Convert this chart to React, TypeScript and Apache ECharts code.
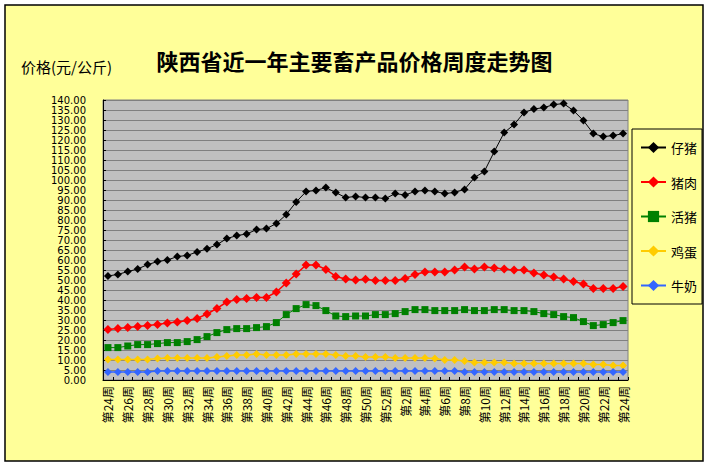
import React, { useEffect, useRef } from "react";
import * as echarts from "echarts";

const weeks: string[] = [
  "第24周", "第25周", "第26周", "第27周", "第28周", "第29周", "第30周", "第31周", "第32周", "第33周",
  "第34周", "第35周", "第36周", "第37周", "第38周", "第39周", "第40周", "第41周", "第42周", "第43周",
  "第44周", "第45周", "第46周", "第47周", "第48周", "第49周", "第50周", "第51周", "第52周",
  "第1周", "第2周", "第3周", "第4周", "第5周", "第6周", "第7周", "第8周", "第9周", "第10周",
  "第11周", "第12周", "第13周", "第14周", "第15周", "第16周", "第17周", "第18周", "第19周", "第20周",
  "第21周", "第22周", "第23周", "第24周",
];

const piglet: number[] = [
  52.0, 52.8, 54.2, 55.5, 57.7, 59.2, 60.0, 61.7, 62.3, 64.0,
  65.6, 67.7, 70.7, 72.2, 73.0, 75.2, 75.7, 78.2, 82.7, 89.0,
  94.2, 94.8, 96.2, 93.7, 91.2, 91.8, 91.2, 91.2, 90.7,
  93.2, 92.5, 94.3, 94.8, 94.3, 93.2, 93.8, 95.3, 101.2, 104.3,
  114.2, 123.7, 127.7, 133.7, 135.5, 136.2, 137.7, 138.2, 134.7, 129.7,
  123.2, 121.7, 122.2, 123.2,
];

const pork: number[] = [
  25.3, 25.8, 26.3, 26.8, 27.3, 27.8, 28.5, 29.0, 29.7, 30.8,
  33.0, 35.8, 39.0, 40.3, 40.8, 41.3, 41.3, 44.0, 48.5, 53.0,
  57.5, 57.5, 55.3, 51.8, 50.5, 50.0, 50.4, 49.8, 49.8,
  49.8, 50.8, 52.7, 54.0, 54.0, 54.0, 55.0, 56.5, 55.5, 56.5,
  56.0, 55.5, 55.0, 55.0, 53.5, 52.5, 51.5, 50.5, 49.3, 48.0,
  45.8, 45.8, 45.8, 46.8,
];

const hog: number[] = [
  16.2, 16.2, 17.0, 17.7, 17.7, 18.2, 18.7, 18.7, 19.2, 20.2,
  21.7, 23.7, 25.2, 25.7, 25.7, 26.2, 26.7, 28.7, 32.7, 35.7,
  37.7, 37.2, 34.7, 32.0, 31.7, 32.0, 32.0, 32.7, 32.7,
  33.2, 34.2, 35.2, 35.2, 34.7, 34.7, 34.7, 35.2, 34.7, 34.7,
  35.2, 35.2, 34.7, 34.7, 34.2, 33.2, 32.7, 31.7, 31.2, 29.2,
  27.2, 27.7, 28.7, 29.7,
];

const egg: number[] = [
  10.2, 10.2, 10.2, 10.2, 10.2, 10.7, 11.0, 11.0, 11.0, 11.0,
  11.0, 11.5, 12.0, 12.5, 12.5, 13.0, 12.5, 12.5, 12.5, 13.0,
  13.0, 13.0, 13.0, 12.5, 12.0, 12.0, 11.5, 11.5, 11.5,
  11.0, 11.0, 11.0, 11.0, 10.7, 10.0, 10.0, 9.5, 8.8, 8.8,
  8.8, 8.8, 8.3, 8.3, 8.3, 8.3, 8.3, 8.3, 8.3, 8.3,
  7.8, 7.8, 7.3, 7.3,
];

const milk: number[] = [
  4.0, 4.0, 4.0, 4.0, 4.0, 4.5, 4.5, 4.5, 4.5, 4.5,
  4.5, 4.5, 4.5, 4.5, 4.5, 4.5, 4.5, 4.5, 4.5, 4.5,
  4.5, 4.5, 4.5, 4.5, 4.5, 4.5, 4.5, 4.5, 4.5,
  4.5, 4.5, 4.5, 4.5, 4.5, 4.5, 4.5, 4.0, 4.0, 4.0,
  4.0, 4.0, 4.0, 4.0, 4.0, 4.0, 4.0, 4.0, 4.0, 4.0,
  4.0, 4.0, 4.0, 4.0,
];

const seriesNames: string[] = ["仔猪", "猪肉", "活猪", "鸡蛋", "牛奶"];
const seriesColors: string[] = ["#000000", "#FF0000", "#008000", "#FFCC00", "#3366FF"];
const seriesSymbols: string[] = ["diamond", "diamond", "rect", "diamond", "diamond"];
const seriesSymbolSizes: number[] = [8, 9, 7, 8, 8];
const seriesLineWidths: number[] = [1, 1.5, 1, 1.5, 1.5];
const seriesData: number[][] = [piglet, pork, hog, egg, milk];

const CJK = '"Noto Sans CJK SC", "Noto Sans", sans-serif';

const yLabelStyle = {
  margin: 17,
  hideOverlap: false,
  fontFamily: '"DejaVu Sans", sans-serif',
  fontSize: 10,
  lineHeight: 10,
  color: "#000000",
};

export default function App() {
  const ref = useRef<HTMLDivElement>(null);

  useEffect(() => {
    document.body.style.margin = "0";
    if (!ref.current) return;
    const chart = echarts.init(ref.current, undefined, { renderer: "svg" });

    const option: any = {
      animation: false,
      backgroundColor: "#FFFFFF",
      title: {
        text: "陕西省近一年主要畜产品价格周度走势图",
        left: "center",
        top: 44,
        textStyle: { fontFamily: CJK, fontSize: 22, fontWeight: "bold", color: "#000000" },
      },
      graphic: [
        {
          type: "rect",
          z: -10,
          shape: { x: 5, y: 5, width: 698, height: 456 },
          style: { fill: "#FFFF99", stroke: "#000000", lineWidth: 1.5 },
        },
        {
          type: "text",
          left: 21,
          top: 59,
          style: { text: "价格(元/公斤)", fontFamily: CJK, fontSize: 15, fill: "#000000" },
        },
      ],
      legend: {
        orient: "vertical",
        left: 632,
        top: 129,
        padding: [12, 5, 12, 8],
        itemWidth: 25,
        itemHeight: 14,
        itemGap: 21.5,
        borderColor: "#000000",
        borderWidth: 1,
        data: seriesNames,
        textStyle: { fontFamily: CJK, fontSize: 13, color: "#000000" },
      },
      grid: {
        left: 103,
        top: 100,
        right: 81,
        bottom: 86,
        show: true,
        backgroundColor: "#C0C0C0",
        borderColor: "#808080",
        borderWidth: 1,
        containLabel: false,
      },
      xAxis: {
        type: "category",
        data: weeks,
        boundaryGap: true,
        axisLine: { lineStyle: { color: "#000000", width: 1 } },
        axisTick: { show: true, inside: true, length: 3, interval: 0, lineStyle: { color: "#000000" } },
        axisLabel: {
          interval: 1,
          rotate: 90,
          margin: 6,
          fontFamily: CJK,
          fontSize: 12,
          color: "#000000",
        },
        splitLine: { show: false },
      },
      yAxis: [
        {
          type: "value",
          position: "left",
          min: 0,
          max: 140,
          interval: 5,
          axisLine: { show: true, lineStyle: { color: "#000000", width: 1 } },
          axisTick: { show: true, inside: true, length: 3, lineStyle: { color: "#000000" } },
          axisLabel: {
            ...yLabelStyle,
            showMinLabel: true,
            showMaxLabel: true,
            formatter: (v: number) => (Math.round(v) % 10 === 0 ? v.toFixed(2) : ""),
          },
          splitLine: { show: true, lineStyle: { color: "#808080", width: 1 } },
        },
        {
          type: "value",
          position: "left",
          min: 0,
          max: 140,
          interval: 5,
          axisLine: { show: false },
          axisTick: { show: false },
          axisLabel: {
            ...yLabelStyle,
            showMinLabel: false,
            showMaxLabel: false,
            formatter: (v: number) => (Math.round(v) % 10 === 5 ? v.toFixed(2) : ""),
          },
          splitLine: { show: false },
        },
      ],
      series: seriesNames.map((name, i) => ({
        name,
        type: "line",
        yAxisIndex: 0,
        data: seriesData[i],
        symbol: seriesSymbols[i],
        symbolSize: seriesSymbolSizes[i],
        showAllSymbol: true,
        itemStyle: { color: seriesColors[i] },
        lineStyle: { color: seriesColors[i], width: seriesLineWidths[i] },
        emphasis: { disabled: true },
      })),
    };

    chart.setOption(option);
    return () => {
      chart.dispose();
    };
  }, []);

  return <div ref={ref} style={{ width: 709, height: 466 }} />;
}
